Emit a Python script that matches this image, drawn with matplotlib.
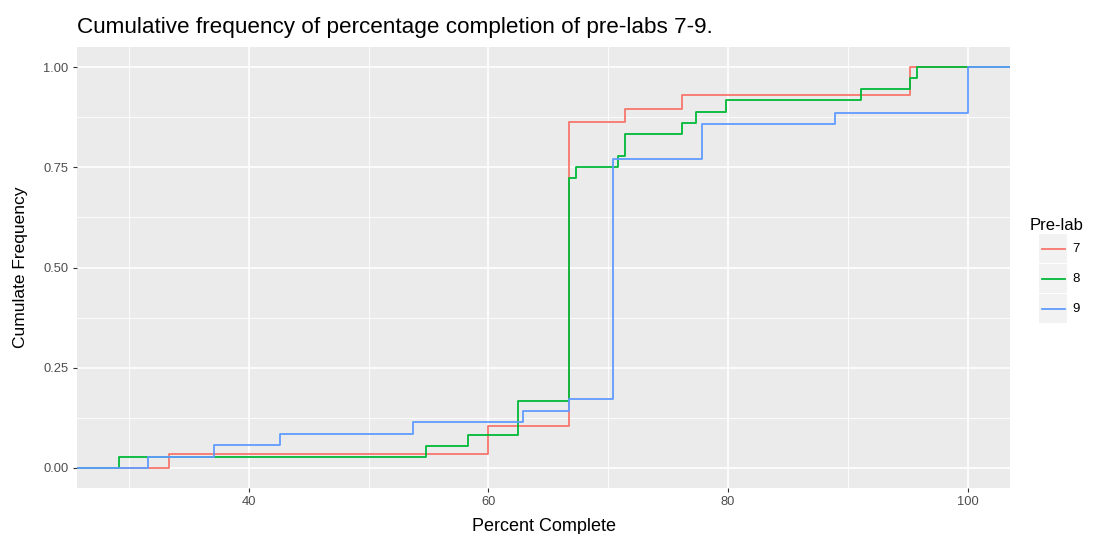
import matplotlib
matplotlib.use("Agg")
import matplotlib.pyplot as plt
from matplotlib.patches import Rectangle
from matplotlib.lines import Line2D
import numpy as np

plt.rcParams['font.family'] = ['Liberation Sans', 'DejaVu Sans']

# percent-complete scores for each pre-lab
prelab_labels = ['7', '8', '9']
scores_7 = [33.3] + [60.0] * 2 + [66.7] * 22 + [71.4, 76.2] + [95.2] * 2
scores_8 = ([29.2, 54.8, 58.3] + [62.5] * 3 + [66.7] * 20 + [67.3, 70.8]
            + [71.4] * 2 + [76.2, 77.3, 79.8, 91.1, 95.2, 95.8])
scores_9 = ([31.6, 37.1, 42.6, 53.7, 62.9, 66.7] + [70.4] * 21 + [77.8] * 3
            + [88.9] + [100.0] * 4)
colors = ['#F8766D', '#00BA38', '#619CFF']

x_ticks = [40, 60, 80, 100]
y_ticks = [0.0, 0.25, 0.5, 0.75, 1.0]

W, H = 1101, 534
fig = plt.figure(figsize=(W / 100, H / 100), dpi=100)
fig.patch.set_facecolor('white')

# panel in pixel coordinates
px_l, px_r, px_t, px_b = 77, 1010, 47, 488
ax = fig.add_axes([px_l / W, 1 - px_b / H, (px_r - px_l) / W, (px_b - px_t) / H])
ax.set_facecolor('#EBEBEB')

all_scores = np.concatenate([scores_7, scores_8, scores_9])
lo, hi = all_scores.min(), all_scores.max()
pad = (hi - lo) * 0.05
xmin, xmax = lo - pad, hi + pad
ax.set_xlim(xmin, xmax)
ax.set_ylim(-0.05, 1.05)

# grid
for v in [30, 50, 70, 90]:
    ax.axvline(v, color='white', lw=0.6, zorder=0)
for v in [0.125, 0.375, 0.625, 0.875]:
    ax.axhline(v, color='white', lw=0.6, zorder=0)
for v in x_ticks:
    ax.axvline(v, color='white', lw=1.2, zorder=0)
for v in y_ticks:
    ax.axhline(v, color='white', lw=1.2, zorder=0)


def ecdf_steps(scores):
    s = np.sort(np.asarray(scores))
    u, counts = np.unique(s, return_counts=True)
    cum = np.cumsum(counts) / len(s)
    xs = np.concatenate([[xmin], u, [xmax]])
    ys = np.concatenate([[0.0], cum, [1.0]])
    return xs, ys


for scores, c in zip([scores_7, scores_8, scores_9], colors):
    xs, ys = ecdf_steps(scores)
    ax.step(xs, ys, where='post', color=c, lw=1.3, zorder=2)

for sp in ax.spines.values():
    sp.set_visible(False)
ax.set_xticks(x_ticks)
ax.set_xticklabels([str(v) for v in x_ticks])
ax.set_yticks(y_ticks)
ax.set_yticklabels(['%.2f' % v for v in y_ticks])
ax.tick_params(length=3, width=0.8, color='#333333', labelcolor='#4D4D4D',
               labelsize=9.3, pad=3)
ax.set_xlabel('Percent Complete', fontsize=13, color='black', labelpad=7)
ax.set_ylabel('Cumulate Frequency', fontsize=12.5, color='black', labelpad=11)

fig.text(px_l / W, 1 - 27 / H, 'Cumulative frequency of percentage completion of pre-labs 7-9.',
         fontsize=16.2, ha='left', va='center')

# legend
fig.text(1030 / W, 1 - 225 / H, 'Pre-lab', fontsize=12, ha='left', va='center')
key_w, key_h = 28, 30
for i, (lab, c) in enumerate(zip(prelab_labels, colors)):
    top = 234 + i * key_h
    fig.add_artist(Rectangle((1039 / W, 1 - (top + key_h - 1) / H), key_w / W, (key_h - 1) / H,
                             transform=fig.transFigure, facecolor='#F2F2F2', edgecolor='none'))
    yc = 1 - (top + key_h / 2) / H
    fig.add_artist(Line2D([1042 / W, 1065 / W], [yc, yc], transform=fig.transFigure,
                          color=c, lw=1.3))
    fig.text(1072 / W, yc, lab, fontsize=9.5, ha='left', va='center', color='black')

fig.savefig('out.png', dpi=100)
